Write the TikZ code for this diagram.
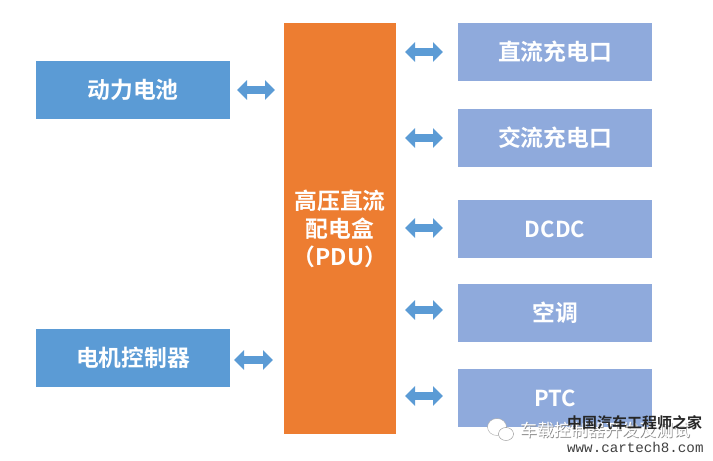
\documentclass[tikz,border=0pt]{standalone}
\usepackage{fontspec}
\setmainfont{Noto Sans CJK SC}[BoldFont={* Bold}]
\newfontfamily\monof{Liberation Mono}
\usetikzlibrary{arrows.meta}
\definecolor{bluebox}{HTML}{5B9BD5}
\definecolor{lightbox}{HTML}{8FAADC}
\definecolor{orangebox}{HTML}{ED7D31}
\tikzset{
 x=1pt,y=-1pt,
 basebox/.style={anchor=north west,inner sep=0pt,outer sep=0pt,text=white,font=\fontsize{22.8}{28}\selectfont\bfseries,align=center},
 leftbox/.style={basebox,fill=bluebox,minimum width=194pt,minimum height=58pt},
 rightbox/.style={basebox,fill=lightbox,minimum width=194pt,minimum height=58pt},
 pdubox/.style={basebox,fill=orangebox,minimum width=112pt,minimum height=411pt},
 link/.style={draw=bluebox,line width=8pt,{Triangle[width=19pt,length=10pt]}-{Triangle[width=19pt,length=10pt]}},
 mark text/.style={inner sep=0pt,font=\fontsize{17}{20}\selectfont},
}
\begin{document}
\begin{tikzpicture}
\useasboundingbox (0,0) rectangle (713,461);
\node[leftbox] (bat) at (36,61) {动力电池};
\node[leftbox] (mot) at (36,329) {电机控制器};
\node[pdubox] (pdu) at (284,23) {高压直流\\配电盒\\（PDU）};
\node[rightbox] (dcp) at (458,23) {直流充电口};
\node[rightbox] (acp) at (458,109) {交流充电口};
\node[rightbox,font=\fontsize{22}{27}\selectfont\bfseries] (dcdc) at (458,200) {DCDC};
\node[rightbox] (air) at (458,284) {空调};
\node[rightbox,font=\fontsize{22}{27}\selectfont\bfseries] (ptc) at (458,369) {PTC};
% connectors
\draw[link,shorten <=7pt,shorten >=9pt] (bat.east) -- (bat.east -| pdu.west);
\draw[link,shorten <=4pt,shorten >=11pt] ([yshift=-2pt]mot.east) -- ([yshift=-2pt]mot.east -| pdu.west);
\draw[link,shorten <=9pt,shorten >=15pt] (dcp.west -| pdu.east) -- (dcp.west);
\draw[link,shorten <=9pt,shorten >=15pt] (acp.west -| pdu.east) -- (acp.west);
\draw[link,shorten <=9pt,shorten >=15pt] ([yshift=1pt]dcdc.west -| pdu.east) -- ([yshift=1pt]dcdc.west);
\draw[link,shorten <=9pt,shorten >=15pt] ([yshift=3pt]air.west -| pdu.east) -- ([yshift=3pt]air.west);
\draw[link,shorten <=9pt,shorten >=15pt] ([yshift=2pt]ptc.west -| pdu.east) -- ([yshift=2pt]ptc.west);
% watermark
\fill[white,draw=black!35,line width=.4pt] (497,427) ellipse (9.5 and 8.5);
\fill[white,draw=black!45,line width=.4pt] (506,434) ellipse (7.5 and 6.5);
\node[mark text,text=black!45,anchor=west] (wms) at (520.6,430.6) {车载控制器开发及测试};
\node[mark text,text=white,anchor=west] (wm) at (520,430) {车载控制器开发及测试};
\node[inner sep=0pt,anchor=west,font=\fontsize{15}{18}\selectfont\bfseries,text=black!85] (cn) at (567,423) {中国汽车工程师之家};
\node[inner sep=0pt,anchor=west,font=\fontsize{14.2}{17}\monof,text=black!75] (url) at (567,447) {www.cartech8.com};
\end{tikzpicture}
\end{document}
